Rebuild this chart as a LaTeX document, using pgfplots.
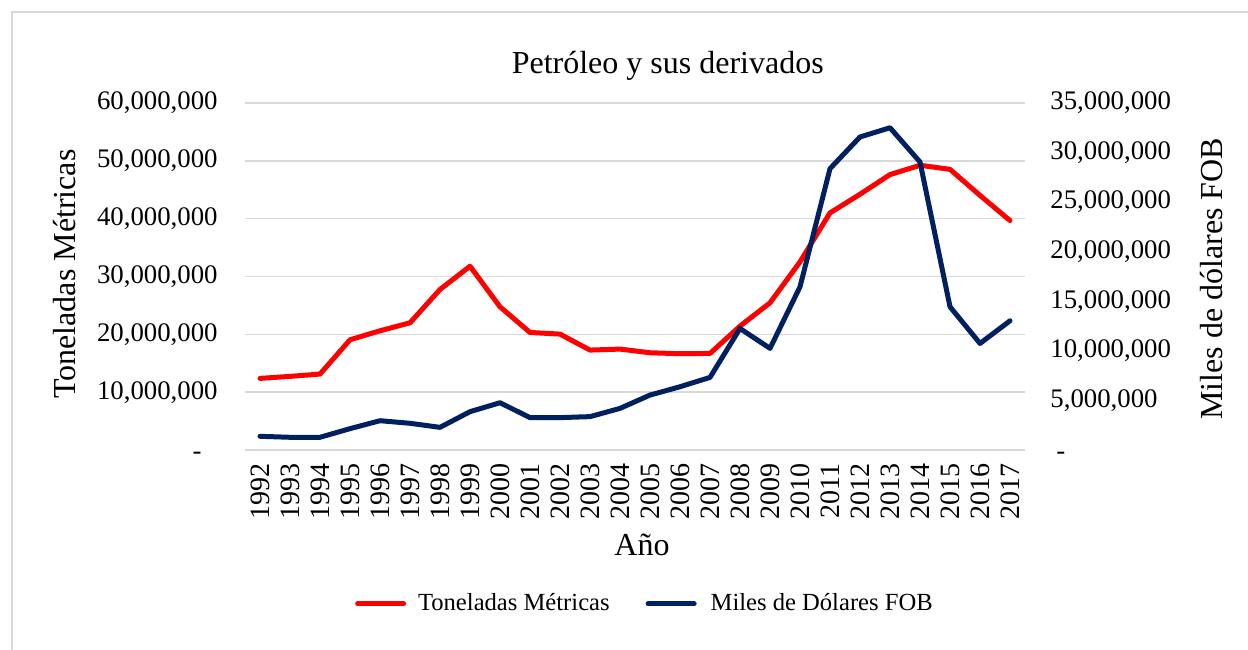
\documentclass[border=0pt]{standalone}
\usepackage{fontspec}
\setmainfont{Liberation Serif}
\usepackage{pgfplots}
\usepackage{pgfplotstable}
\pgfplotsset{compat=1.18}

\definecolor{tonred}{HTML}{FF0000}
\definecolor{fobnavy}{HTML}{002060}
\definecolor{gridgray}{HTML}{D9D9D9}

% year, toneladas metricas, miles de dolares FOB
\pgfplotstableread{
year ton fob
1992 12410000 1410000
1993 12760000 1310000
1994 13160000 1310000
1995 19080000 2180000
1996 20630000 2980000
1997 22010000 2720000
1998 27760000 2310000
1999 31780000 3890000
2000 24770000 4790000
2001 20340000 3290000
2002 20060000 3290000
2003 17300000 3390000
2004 17470000 4220000
2005 16840000 5560000
2006 16670000 6400000
2007 16720000 7340000
2008 21440000 12270000
2009 25460000 10260000
2010 32530000 16460000
2011 40980000 28360000
2012 44200000 31550000
2013 47590000 32480000
2014 49200000 29030000
2015 48500000 14450000
2016 44000000 10760000
2017 39660000 13040000
}\datatable

\pgfplotsset{
  common/.style={
    at={(122.5pt,99.35pt)}, anchor=south west,
    width=390pt, height=173.8pt, scale only axis,
    xmin=1991.5, xmax=2017.5,
    axis line style={draw=none},
    major tick length=0pt,
    scaled ticks=false,
    /pgf/number format/assume math mode=true,
  },
}

\begin{document}
\begin{tikzpicture}
\useasboundingbox (0pt,0pt) rectangle (624pt,324.5pt);
\draw[gridgray, line width=0.9pt] (6pt,-5pt) -- (6pt,318.5pt) -- (630pt,318.5pt);

\begin{axis}[
  common,
  ymin=0, ymax=60000000,
  ytick={0,10000000,20000000,30000000,40000000,50000000,60000000},
  yticklabels={{\raisebox{-1.3pt}{-}\rule{8pt}{0pt}\vphantom{0,}},{10,000,000},{20,000,000},{30,000,000},{40,000,000},{50,000,000},{60,000,000}},
  yticklabel style={font=\fontsize{13.4}{15}\selectfont, inner sep=0pt, xshift=-13.5pt},
  ymajorgrids=true,
  grid style={gridgray, line width=0.9pt},
  xtick={1992,...,2017},
  xticklabel style={font=\fontsize{14}{16}\selectfont, inner sep=0pt, yshift=-6.3pt, rotate=90, anchor=east,
    /pgf/number format/1000 sep={}},
  title={Petróleo y sus derivados},
  title style={at={(axis description cs:0.542,1.071)}, anchor=center, font=\fontsize{16}{18}\selectfont, inner sep=0pt},
  ylabel={Toneladas Métricas},
  ylabel style={at={(axis description cs:-0.2308,0.507)}, anchor=center, rotate=0, font=\fontsize{16}{18}\selectfont, inner sep=0pt},
  xlabel={Año},
  xlabel style={at={(axis description cs:0.509,-0.272)}, anchor=center, font=\fontsize{16}{18}\selectfont, inner sep=0pt},
]
\addplot[tonred, line width=2.5pt, line join=round, line cap=round] table[x=year, y=ton] {\datatable};
\end{axis}

\begin{axis}[
  common,
  ymin=0, ymax=35000000,
  axis y line*=right,
  hide x axis,
  ytick={0,5000000,10000000,15000000,20000000,25000000,30000000,35000000},
  yticklabels={{\rule{3pt}{0pt}\raisebox{-1.3pt}{-}\vphantom{0,}},{5,000,000},{10,000,000},{15,000,000},{20,000,000},{25,000,000},{30,000,000},{35,000,000}},
  yticklabel style={font=\fontsize{13.4}{15}\selectfont, inner sep=0pt, xshift=12.5pt},
  ylabel={Miles de dólares FOB},
  ylabel style={at={(axis description cs:1.2397,0.493)}, anchor=center, rotate=0, font=\fontsize{16}{18}\selectfont, inner sep=0pt},
  legend style={at={(axis description cs:0.514,-0.442)}, anchor=center, draw=none, fill=none,
    legend columns=2, font=\fontsize{12.3}{14}\selectfont,
    /tikz/every even column/.append style={column sep=16pt}},
  legend image code/.code={\draw[#1, line width=2.5pt, line cap=round] (0pt,0pt) -- (23pt,0pt); \path (28pt,0pt);},
]
\addlegendimage{tonred}
\addlegendentry{Toneladas Métricas}
\addplot[fobnavy, line width=2.5pt, line join=round, line cap=round] table[x=year, y=fob] {\datatable};
\addlegendentry{Miles de Dólares FOB}
\end{axis}
\end{tikzpicture}
\end{document}
